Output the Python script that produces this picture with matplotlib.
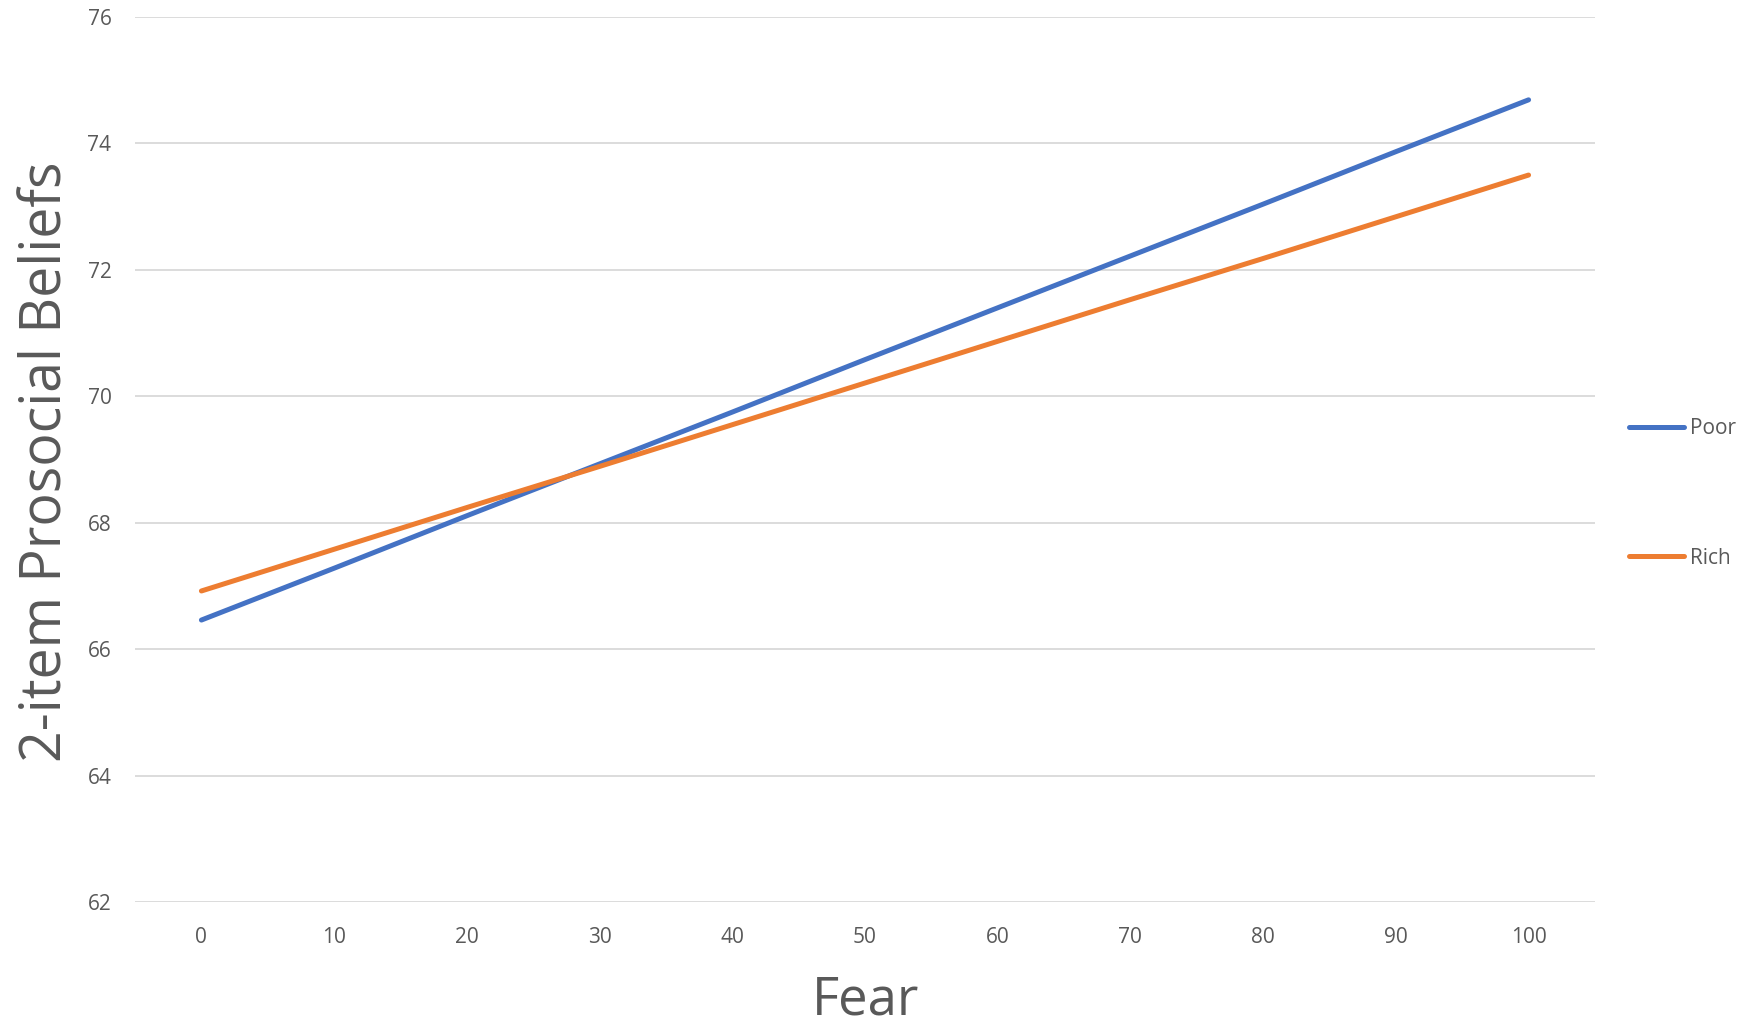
import matplotlib.pyplot as plt
from matplotlib.lines import Line2D

# data
fear = [0, 10, 20, 30, 40, 50, 60, 70, 80, 90, 100]
poor = [66.46, 67.28, 68.11, 68.93, 69.75, 70.58, 71.40, 72.22, 73.04, 73.87, 74.69]
rich = [66.92, 67.58, 68.24, 68.89, 69.55, 70.21, 70.87, 71.53, 72.18, 72.84, 73.50]
yticks = [62, 64, 66, 68, 70, 72, 74, 76]

plt.rcParams['font.family'] = ['Open Sans', 'DejaVu Sans']
gray = '#595959'

fig = plt.figure(figsize=(17.45, 10.26), dpi=100)
ax = fig.add_axes([0.0774, 0.1209, 0.8366, 0.8625])

pos = list(range(len(fear)))
ax.plot(pos, poor, color='#4472C4', lw=3.6, solid_capstyle='round')
ax.plot(pos, rich, color='#ED7D31', lw=3.6, solid_capstyle='round')

ax.set_xlim(-0.5, len(fear) - 0.5)
ax.set_ylim(62, 76)
ax.set_xticks(pos)
ax.set_xticklabels([str(f) for f in fear])
ax.set_yticks(yticks)
ax.grid(axis='y', color='#D9D9D9', lw=1.3)
ax.set_axisbelow(True)
for s in ax.spines.values():
    s.set_visible(False)
ax.tick_params(length=0, labelsize=15, colors=gray)
ax.tick_params(axis='x', pad=18)
ax.tick_params(axis='y', pad=17)

# axis titles
fig.text(0.496, 0.011, 'Fear', fontsize=38, color=gray, ha='center', va='baseline')
fig.text(0.027, 0.55, '2-item Prosocial Beliefs', rotation=90, fontsize=40,
         color=gray, ha='center', va='center')

handles = [Line2D([], [], color='#4472C4', lw=3.6, solid_capstyle='round'),
           Line2D([], [], color='#ED7D31', lw=3.6, solid_capstyle='round')]
fig.legend(handles, ['Poor', 'Rich'], loc='center left', bbox_to_anchor=(0.923, 0.519),
           frameon=False, fontsize=15, labelcolor=gray, handlelength=2.6,
           handletextpad=0.3, labelspacing=5.2)

fig.savefig('out.png', dpi=100)
